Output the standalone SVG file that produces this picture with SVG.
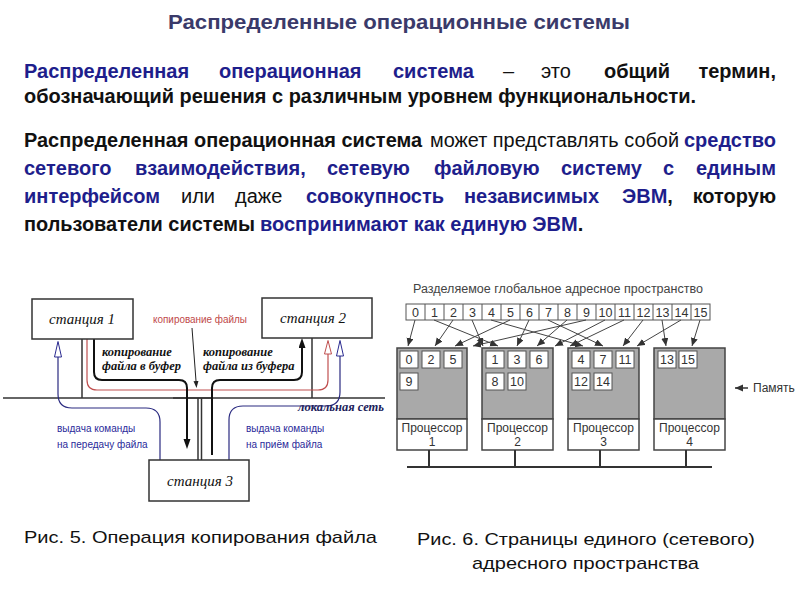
<svg xmlns="http://www.w3.org/2000/svg" width="800" height="600" viewBox="0 0 800 600">
<style>
.t{font-family:"Liberation Sans",Arial,sans-serif}
.b{font-family:"Liberation Sans",Arial,sans-serif;font-weight:bold;font-size:20px}
.n{font-weight:normal}
.bl{fill:#1e1e8c}
.k{fill:#111}
.st{font-family:"Liberation Serif","Times New Roman",serif;font-style:italic;font-size:15px;fill:#111;text-anchor:middle}
.lab{font-family:"Liberation Serif","Times New Roman",serif;font-style:italic;font-weight:bold;font-size:12.5px;fill:#111}
.sm{font-family:"Liberation Sans",Arial,sans-serif;font-size:10px}
.box{fill:#fff;stroke:#333;stroke-width:1.5}
.mem{fill:#a9a9a9;stroke:#444;stroke-width:1.5}
.proc{fill:#fff;stroke:#444;stroke-width:1.5}
.cell{fill:#fff;stroke:#555;stroke-width:1}
.num{font-family:"Liberation Sans",Arial,sans-serif;font-size:12.5px;fill:#333;text-anchor:middle}
.pl{font-family:"Liberation Sans",Arial,sans-serif;font-size:12px;fill:#333;text-anchor:middle}
.ln{fill:none;stroke:#333;stroke-width:1.5}
.ga{fill:none;stroke:#444;stroke-width:1;marker-end:url(#ag)}
</style>
<defs>
<marker id="ag" markerUnits="userSpaceOnUse" markerWidth="9" markerHeight="8" refX="8" refY="3.5" orient="auto"><path d="M0,0 L8,3.5 L0,7 z" fill="#333"/></marker>
<marker id="ak" markerUnits="userSpaceOnUse" markerWidth="11" markerHeight="8" refX="0" refY="3.5" orient="auto"><path d="M0,0 L10,3.5 L0,7 z" fill="#111"/></marker>
<marker id="ap" markerUnits="userSpaceOnUse" markerWidth="8" markerHeight="6" refX="0" refY="2.5" orient="auto"><path d="M0,0 L7,2.5 L0,5 z" fill="#222"/></marker>
<marker id="hb" markerUnits="userSpaceOnUse" markerWidth="18" markerHeight="10" refX="0.5" refY="4" orient="auto"><path d="M0.5,0.5 L16,4 L0.5,7.5 z" fill="#fff" stroke="#2a2a90" stroke-width="1"/></marker>
<marker id="hr" markerUnits="userSpaceOnUse" markerWidth="18" markerHeight="10" refX="0.5" refY="4" orient="auto"><path d="M0.5,0.5 L14,4 L0.5,7.5 z" fill="#fff" stroke="#c05050" stroke-width="1"/></marker>
</defs>
<rect width="800" height="600" fill="#fff"/>

<!-- Title and text -->
<text class="t" x="168" y="29" font-size="21" font-weight="bold" fill="#3a3a6a" textLength="462" lengthAdjust="spacingAndGlyphs">Распределенные операционные системы</text>

<g class="b">
<text y="78"><tspan class="bl" x="24">Распределенная</tspan><tspan class="bl" x="219">операционная</tspan><tspan class="bl" x="393">система</tspan><tspan class="k n" x="503">–</tspan><tspan class="k n" x="541">это</tspan><tspan class="k" x="604">общий</tspan></text>
<text y="78" x="776" class="k" text-anchor="end">термин,</text>
<text y="103" x="24" class="k" textLength="672" lengthAdjust="spacingAndGlyphs">обозначающий решения с различным уровнем функциональности.</text>

<text y="147" x="24" class="k" textLength="398" lengthAdjust="spacingAndGlyphs">Распределенная операционная система</text>
<text y="147" x="430" class="k n" textLength="249" lengthAdjust="spacingAndGlyphs">может представлять собой</text>
<text y="147" x="776" class="bl" text-anchor="end">средство</text>

<text y="175" class="bl"><tspan x="24">сетевого</tspan><tspan x="135">взаимодействия,</tspan><tspan x="327">сетевую</tspan><tspan x="434">файловую</tspan><tspan x="561">систему</tspan><tspan x="663">с</tspan></text>
<text y="175" x="776" class="bl" text-anchor="end">единым</text>

<text y="203"><tspan class="bl" x="24">интерфейсом</tspan><tspan class="k n" x="181">или</tspan><tspan class="k n" x="235">даже</tspan><tspan class="bl" x="306">совокупность</tspan><tspan class="bl" x="464">независимых</tspan><tspan class="bl" x="622">ЭВМ</tspan><tspan class="k">,</tspan></text>
<text y="203" x="776" class="k" text-anchor="end">которую</text>

<text y="231" x="24" class="k" textLength="231" lengthAdjust="spacingAndGlyphs">пользователи системы</text>
<text y="231" x="260"><tspan class="bl">воспринимают как единую ЭВМ</tspan><tspan class="k">.</tspan></text>
</g>

<!-- Figure 5 -->
<g id="fig5-connectors">
<path class="ln" d="M3,398 H385" stroke-width="2"/>
<path class="ln" d="M173,398 H213" stroke-width="3.5"/>
<path class="ln" d="M82,339 V398"/>
<path class="ln" d="M312,338 V398"/>
<path class="ln" d="M198,398 V460"/>
<path class="ln" d="M201.5,398 V460"/>
<path d="M87,339 V380 Q87,390 97,390 H318 Q328,390 328,380 V354" fill="none" stroke="#c05050" stroke-width="1.2" marker-end="url(#hr)"/>
<path d="M94,339 V372 Q94,380 102,380 H179 Q187,380 187,388 V439" fill="none" stroke="#111" stroke-width="2" marker-end="url(#ak)"/>
<path d="M212,455 V388 Q212,380 220,380 H294 Q302,380 302,372 V348" fill="none" stroke="#111" stroke-width="2" marker-end="url(#ak)"/>
<path d="M160,460 V422 Q160,408 146,408 H72 Q58,408 58,394 V357" fill="none" stroke="#2a2a80" stroke-width="1.2" marker-end="url(#hb)"/>
<path d="M229,460 V420 Q229,406 243,406 H326 Q340,406 340,392 V356" fill="none" stroke="#2a2a80" stroke-width="1.2" marker-end="url(#hb)"/>
<path d="M192,328 L196,381" fill="none" stroke="#222" stroke-width="1" marker-end="url(#ap)"/>
</g>
<g id="station1"><rect class="box" x="32" y="299" width="101" height="40"/><text class="st" x="82" y="324">станция 1</text></g>
<g id="station2"><rect class="box" x="262" y="298" width="110" height="40"/><text class="st" x="313" y="323">станция 2</text></g>
<g id="station3"><rect class="box" x="149" y="460" width="100" height="41"/><text class="st" x="200" y="486">станция 3</text></g>
<g id="fig5-labels">
<text class="sm" x="153" y="323" fill="#c04848" textLength="94" lengthAdjust="spacingAndGlyphs">копирование файлы</text>
<text class="lab" x="102" y="356">копирование</text>
<text class="lab" x="102" y="370">файла в буфер</text>
<text class="lab" x="203" y="356">копирование</text>
<text class="lab" x="203" y="370">файла из буфера</text>
<text class="lab" x="298" y="411" style="fill:#20205a">локальная сеть</text>
<text class="sm" x="57" y="432" fill="#2a2a9a">выдача команды</text>
<text class="sm" x="57" y="448" fill="#2a2a9a">на передачу файла</text>
<text class="sm" x="246" y="432" fill="#2a2a9a">выдача команды</text>
<text class="sm" x="246" y="448" fill="#2a2a9a">на приём файла</text>
</g>

<!-- Figure 6 -->
<text class="t" x="413" y="293" font-size="12" fill="#444" textLength="290" lengthAdjust="spacingAndGlyphs">Разделяемое глобальное адресное пространство</text>
<g id="address-space">
<rect x="406" y="304" width="304" height="16" fill="#fff" stroke="#555"/>
<path d="M425,304V320M444,304V320M463,304V320M482,304V320M501,304V320M520,304V320M539,304V320M558,304V320M577,304V320M596,304V320M615,304V320M634,304V320M653,304V320M672,304V320M691,304V320" stroke="#555" stroke-width="1"/>
<g class="num">
<text x="415.5" y="317">0</text><text x="434.5" y="317">1</text><text x="453.5" y="317">2</text><text x="472.5" y="317">3</text>
<text x="491.5" y="317">4</text><text x="510.5" y="317">5</text><text x="529.5" y="317">6</text><text x="548.5" y="317">7</text>
<text x="567.5" y="317">8</text><text x="586.5" y="317">9</text><text x="605.5" y="317">10</text><text x="624.5" y="317">11</text>
<text x="643.5" y="317">12</text><text x="662.5" y="317">13</text><text x="681.5" y="317">14</text><text x="700.5" y="317">15</text>
</g>
</g>
<g id="page-arrows">
<path class="ga" d="M415,320 L408,346"/>
<path class="ga" d="M453,320 L435,346"/>
<path class="ga" d="M510,320 L455,346"/>
<path class="ga" d="M586,320 L473,346"/>
<path class="ga" d="M434,320 L498,346"/>
<path class="ga" d="M472,320 L483,346"/>
<path class="ga" d="M529,320 L517,346"/>
<path class="ga" d="M567,320 L537,346"/>
<path class="ga" d="M605,320 L555,346"/>
<path class="ga" d="M491,320 L583,346"/>
<path class="ga" d="M548,320 L603,346"/>
<path class="ga" d="M624,320 L570,346"/>
<path class="ga" d="M643,320 L623,346"/>
<path class="ga" d="M681,320 L637,346"/>
<path class="ga" d="M662,320 L666,346"/>
<path class="ga" d="M700,320 L692,346"/>
</g>
<g id="proc1">
<rect class="mem" x="397" y="348" width="70" height="71"/><rect class="proc" x="397" y="419" width="70" height="31"/>
<rect class="cell" x="400" y="351" width="18" height="17"/><rect class="cell" x="422" y="351" width="18" height="17"/><rect class="cell" x="444" y="351" width="18" height="17"/>
<rect class="cell" x="400" y="373" width="18" height="17"/>
<g class="num"><text x="409" y="364">0</text><text x="431" y="364">2</text><text x="453" y="364">5</text><text x="409" y="386">9</text></g>
<g class="pl"><text x="432" y="432">Процессор</text><text x="432" y="446">1</text></g>
</g>
<g id="proc2">
<rect class="mem" x="482" y="348" width="71" height="71"/><rect class="proc" x="482" y="419" width="71" height="31"/>
<rect class="cell" x="486" y="351" width="18" height="17"/><rect class="cell" x="508" y="351" width="18" height="17"/><rect class="cell" x="530" y="351" width="18" height="17"/>
<rect class="cell" x="486" y="373" width="18" height="17"/><rect class="cell" x="508" y="373" width="18" height="17"/>
<g class="num"><text x="495" y="364">1</text><text x="517" y="364">3</text><text x="539" y="364">6</text><text x="495" y="386">8</text><text x="517" y="386">10</text></g>
<g class="pl"><text x="517.5" y="432">Процессор</text><text x="517.5" y="446">2</text></g>
</g>
<g id="proc3">
<rect class="mem" x="568" y="348" width="71" height="71"/><rect class="proc" x="568" y="419" width="71" height="31"/>
<rect class="cell" x="572" y="351" width="18" height="17"/><rect class="cell" x="594" y="351" width="18" height="17"/><rect class="cell" x="616" y="351" width="18" height="17"/>
<rect class="cell" x="572" y="373" width="18" height="17"/><rect class="cell" x="594" y="373" width="18" height="17"/>
<g class="num"><text x="581" y="364">4</text><text x="603" y="364">7</text><text x="625" y="364">11</text><text x="581" y="386">12</text><text x="603" y="386">14</text></g>
<g class="pl"><text x="603.5" y="432">Процессор</text><text x="603.5" y="446">3</text></g>
</g>
<g id="proc4">
<rect class="mem" x="654" y="348" width="71" height="71"/><rect class="proc" x="654" y="419" width="71" height="31"/>
<rect class="cell" x="658" y="351" width="18" height="17"/><rect class="cell" x="679" y="351" width="18" height="17"/>
<g class="num"><text x="667" y="364">13</text><text x="688" y="364">15</text></g>
<g class="pl"><text x="689.5" y="432">Процессор</text><text x="689.5" y="446">4</text></g>
</g>
<g id="bus">
<path d="M407,467 H712 M429,450 V467 M515,450 V467 M600,450 V467 M686,450 V467" stroke="#333" stroke-width="2" fill="none"/>
</g>
<g id="memory-label">
<path d="M748,388 H735" stroke="#333" stroke-width="1.5" marker-end="url(#ag)"/>
<text class="t" x="753" y="392" font-size="12" fill="#333">Память</text>
</g>

<!-- Captions -->
<text class="t" x="24" y="543" font-size="17" fill="#111" textLength="353" lengthAdjust="spacingAndGlyphs">Рис. 5. Операция копирования файла</text>
<text class="t" x="417" y="545" font-size="17" fill="#111" textLength="338" lengthAdjust="spacingAndGlyphs">Рис. 6. Страницы единого (сетевого)</text>
<text class="t" x="472" y="569" font-size="17" fill="#111" textLength="227" lengthAdjust="spacingAndGlyphs">адресного пространства</text>
</svg>
